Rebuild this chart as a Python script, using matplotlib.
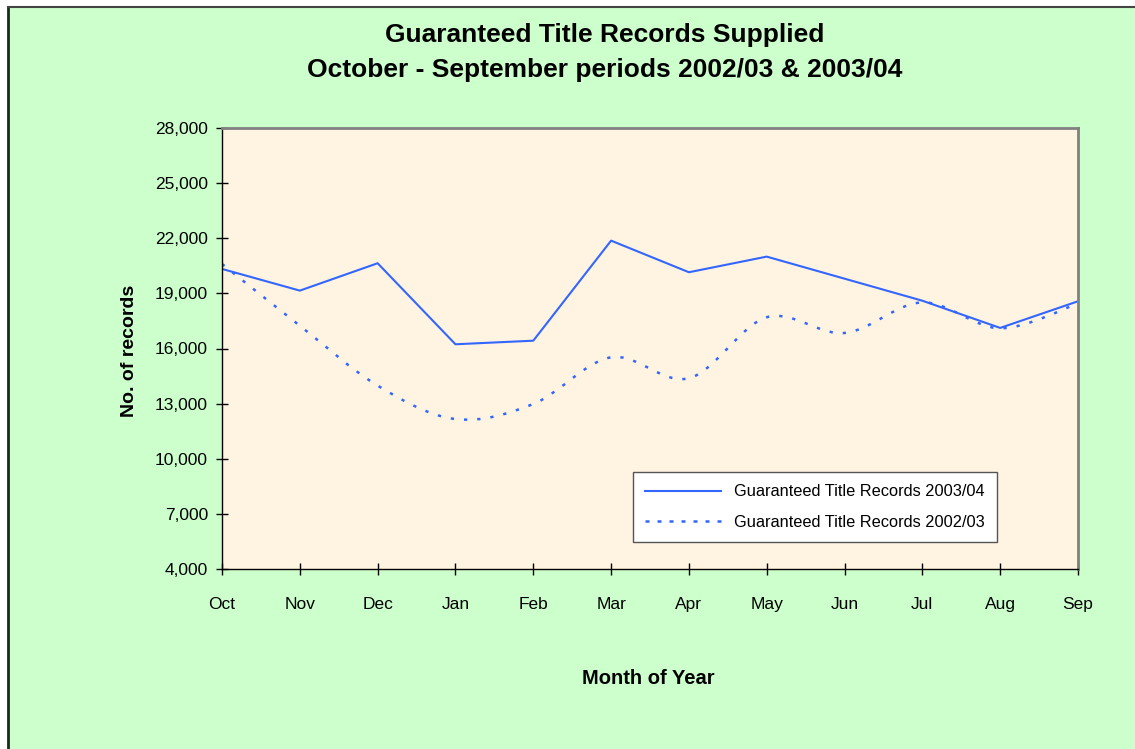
import numpy as np
import matplotlib.pyplot as plt
from matplotlib.path import Path
from matplotlib.patches import PathPatch, Rectangle
from matplotlib.lines import Line2D
from matplotlib.ticker import FuncFormatter

plt.rcParams['font.family'] = ['Liberation Sans', 'DejaVu Sans']

months = ['Oct', 'Nov', 'Dec', 'Jan', 'Feb', 'Mar', 'Apr', 'May', 'Jun', 'Jul', 'Aug', 'Sep']
records_0304 = [20330, 19150, 20640, 16230, 16425, 21870, 20150, 21000, 19800, 18600, 17120, 18570]
records_0203 = [20600, 17240, 13980, 12160, 12980, 15520, 14380, 17700, 16845, 18510, 17100, 18450]
yticks = [4000, 7000, 10000, 13000, 16000, 19000, 22000, 25000, 28000]

line_col = '#3366FF'
W, H = 1135, 749


def smooth_path(x, y):
    # Catmull-Rom style bezier segments, like Excel's smoothed line
    x = np.asarray(x, float)
    y = np.asarray(y, float)
    verts = [(x[0], y[0])]
    codes = [Path.MOVETO]
    n = len(x)
    for i in range(n - 1):
        p0 = (x[max(i - 1, 0)], y[max(i - 1, 0)])
        p1 = (x[i], y[i])
        p2 = (x[i + 1], y[i + 1])
        p3 = (x[min(i + 2, n - 1)], y[min(i + 2, n - 1)])
        c1 = (p1[0] + (p2[0] - p0[0]) / 6, p1[1] + (p2[1] - p0[1]) / 6)
        c2 = (p2[0] - (p3[0] - p1[0]) / 6, p2[1] - (p3[1] - p1[1]) / 6)
        verts += [c1, c2, p2]
        codes += [Path.CURVE4] * 3
    return Path(verts, codes)


fig = plt.figure(figsize=(W / 100, H / 100), dpi=100)
fig.patch.set_facecolor('white')

# green chart area with dark top/left edge
fig.patches.append(Rectangle((8 / W, 0), 1, 1 - 8 / H, transform=fig.transFigure,
                             facecolor='#CCFFCC', edgecolor='none', zorder=-5))
fig.lines.append(Line2D([7.5 / W, 7.5 / W], [0, 1 - 7 / H], transform=fig.transFigure,
                        color='#1a2a1a', lw=2, zorder=-4))
fig.lines.append(Line2D([7.5 / W, 1], [1 - 7 / H, 1 - 7 / H], transform=fig.transFigure,
                        color='#444444', lw=1.5, zorder=-4))

ax = fig.add_axes([222 / W, 1 - 569 / H, (1078 - 222) / W, (569 - 128) / H])
ax.set_zorder(2)
ax.set_facecolor('#FFF3E1')

x = np.arange(len(months))
ax.plot(x, records_0304, color=line_col, lw=1.5, label='Guaranteed Title Records 2003/04')
ax.add_patch(PathPatch(smooth_path(x, records_0203), facecolor='none', edgecolor=line_col,
                       lw=1.8, linestyle=(0, (1.3, 4.0))))

ax.set_xlim(0, len(months) - 1)
ax.set_ylim(4000, 28000)
ax.set_xticks(x)
ax.set_xticklabels(months)
ax.set_yticks(yticks)
ax.yaxis.set_major_formatter(FuncFormatter(lambda v, p: f'{int(v):,}'))
ax.tick_params(axis='both', direction='inout', length=8, width=1, labelsize=12.5, pad=6)
ax.tick_params(axis='x', pad=16)

for s in ['left', 'bottom']:
    ax.spines[s].set_color('black')
    ax.spines[s].set_linewidth(1)
for s in ['top', 'right']:
    ax.spines[s].set_color('#808080')
    ax.spines[s].set_linewidth(2)

fig.text(605 / W, 1 - 35 / H, 'Guaranteed Title Records Supplied', ha='center', va='center',
         fontsize=19, fontweight='bold')
fig.text(605 / W, 1 - 70 / H, 'October - September periods 2002/03 & 2003/04', ha='center', va='center',
         fontsize=19, fontweight='bold')
fig.text(130 / W, 1 - 351 / H, 'No. of records', rotation=90, ha='center', va='center',
         fontsize=14, fontweight='bold')
fig.text(648 / W, 1 - 678 / H, 'Month of Year', ha='center', va='center',
         fontsize=14.5, fontweight='bold')

handles = [Line2D([], [], color=line_col, lw=1.5),
           Line2D([], [], color=line_col, lw=1.8, linestyle=(0, (1.6, 3.2)))]
leg = ax.legend(handles, ['Guaranteed Title Records 2003/04', 'Guaranteed Title Records 2002/03'],
                loc='upper left', bbox_to_anchor=((633 - 222) / (1078 - 222), 1 - (472 - 128) / (569 - 128)),
                frameon=True, fancybox=False, fontsize=11.8, handlelength=4.6, borderpad=0.75,
                labelspacing=0.95, handletextpad=0.8, borderaxespad=0)
leg.get_frame().set_edgecolor('#555555')
leg.get_frame().set_linewidth(1)
leg.get_frame().set_facecolor('white')
leg.get_frame().set_alpha(1)

fig.savefig('out.png', dpi=100, facecolor=fig.get_facecolor())
